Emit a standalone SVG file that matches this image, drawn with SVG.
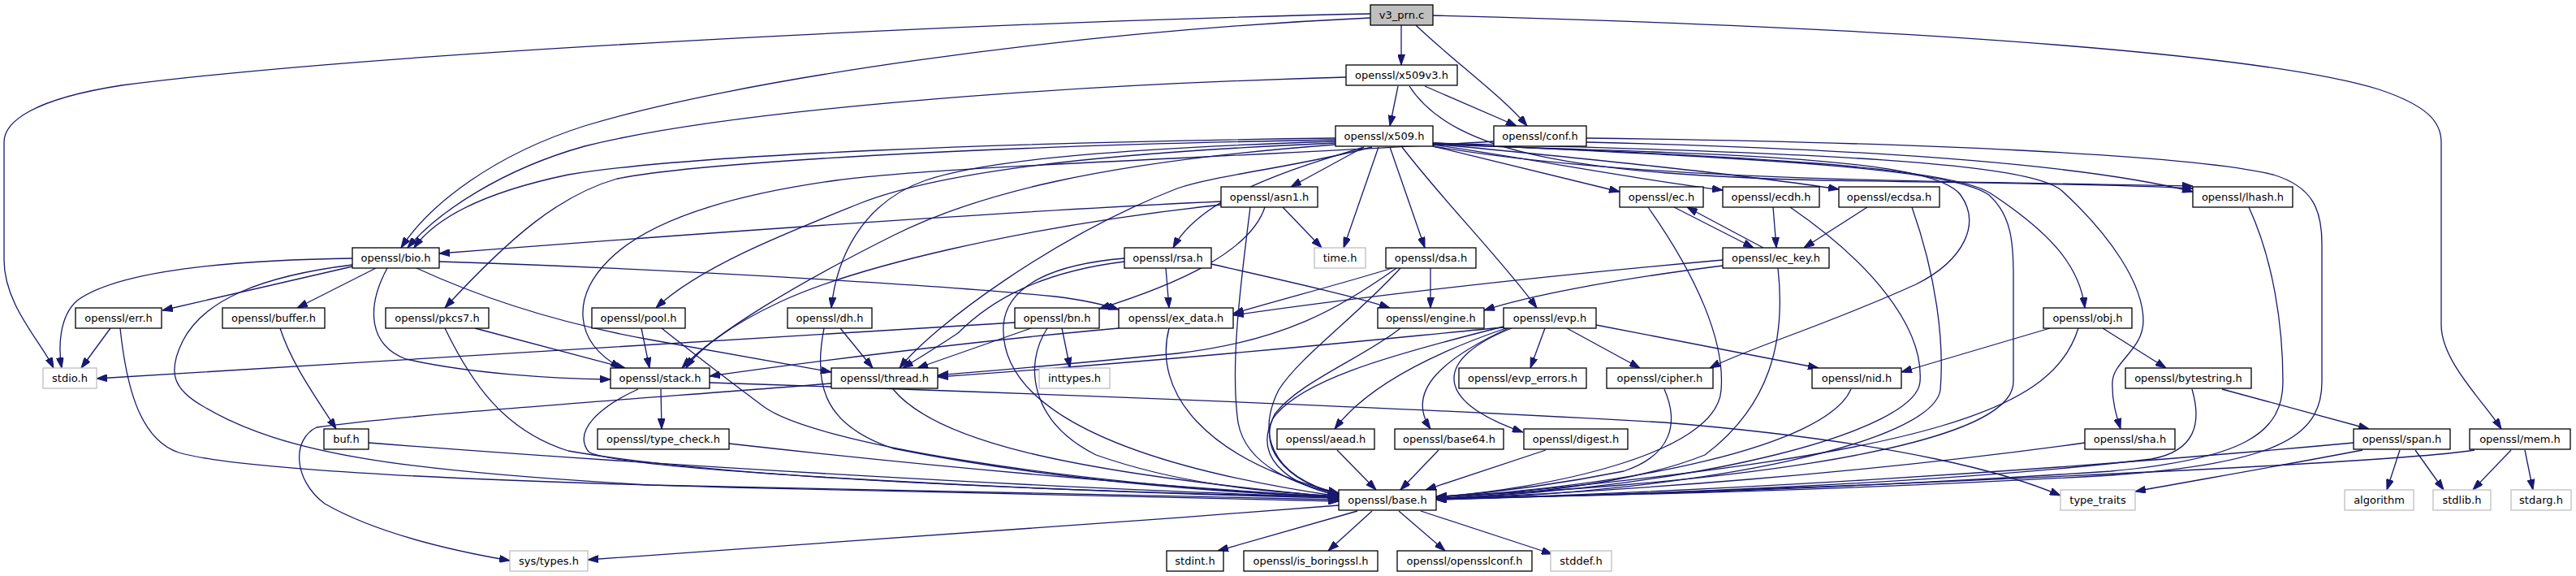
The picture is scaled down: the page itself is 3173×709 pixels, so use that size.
<svg xmlns="http://www.w3.org/2000/svg" width="3173" height="709" viewBox="0 0 3173 709">
<style>
.n rect{fill:#fff;stroke:#000;stroke-width:1.3}
.n.sys rect{stroke:#bfbfbf}
.n.root rect{fill:#bfbfbf}
.n text{font-family:"DejaVu Sans",sans-serif;font-size:13px;fill:#000;text-anchor:middle}
#edges path{fill:none;stroke:#191970;stroke-width:1.3;marker-end:url(#ah)}
</style>
<defs>
<marker id="ah" markerUnits="userSpaceOnUse" markerWidth="13" markerHeight="9" refX="13" refY="4.5" orient="auto" viewBox="0 0 13 9">
<path d="M0,0 L13,4.5 L0,9 z" fill="#191970" stroke="#191970" stroke-width="1"/>
</marker>
</defs>
<rect width="3173" height="709" fill="#fff"/>
<g id="edges">
<path d="M1688,17 C1300,25 500,60 150,105 C40,122 5,150 5,175 L5,320 C5,375 50,420 66,453"/>
<path d="M1688,22 C1300,40 900,100 720,155 C610,190 530,250 494,305"/>
<path d="M1744,31 C1790,75 1850,118 1881,155"/>
<path d="M1765,19 C2400,35 2800,70 2930,110 C2990,130 3007,150 3007,175 L3007,400 C3007,445 3060,495 3081,528"/>
<path d="M1726,31 L1726,80"/>
<path d="M1658,95 C1300,105 900,135 720,180 C620,208 540,260 502,305"/>
<path d="M1755,106 L1868,155"/>
<path d="M1736,106 C1790,190 1950,215 2250,222 C2500,226 2640,228 2701,232"/>
<path d="M1722,106 L1712,155"/>
<path d="M1954,170 C2350,175 2700,190 2800,215 C2850,230 2860,260 2860,300 L2860,470 C2860,540 2800,570 2600,585 C2300,602 2000,610 1769,613"/>
<path d="M1840,174 C1500,195 1150,205 1030,222 C900,240 800,270 750,320 C705,365 705,420 765,453"/>
<path d="M1954,175 C2250,182 2550,198 2701,236"/>
<path d="M1765,176 C2150,195 2400,205 2450,240 C2478,265 2480,300 2480,340 L2480,470 C2480,560 2050,600 1769,611"/>
<path d="M1698,181 L1655,305"/>
<path d="M1680,181 L1590,230"/>
<path d="M1645,170 C1250,175 850,190 700,215 C590,238 535,270 510,305"/>
<path d="M1765,178 C2150,190 2380,195 2415,240 C2440,275 2420,320 2360,350 C2250,400 2150,430 2106,453"/>
<path d="M1645,174 C1400,182 1220,195 1140,222 C1060,250 1030,320 1024,379"/>
<path d="M1712,181 L1755,305"/>
<path d="M1765,180 L1995,236"/>
<path d="M1765,178 C1900,198 2010,220 2122,234"/>
<path d="M1765,177 C1950,195 2150,215 2265,233"/>
<path d="M1727,181 C1780,250 1850,320 1893,379"/>
<path d="M1765,177 C2150,192 2410,205 2455,240 C2530,290 2562,330 2568,379"/>
<path d="M1645,172 C1200,180 860,200 760,220 C690,240 630,290 548,379"/>
<path d="M1645,176 C1320,190 1150,215 1060,250 C960,290 860,330 808,379"/>
<path d="M1680,181 C1600,205 1480,240 1445,305"/>
<path d="M1765,176 C2250,188 2500,200 2540,235 C2600,290 2640,350 2640,395 C2640,430 2603,445 2602,470 C2601,495 2608,515 2612,528"/>
<path d="M1645,178 C1350,200 1200,240 1100,290 C980,350 880,410 840,453"/>
<path d="M1690,181 C1600,205 1500,215 1450,232 C1300,290 1150,400 1108,453"/>
<path d="M1765,180 C2000,220 2300,222 2701,229"/>
<path d="M434,326 C320,340 250,370 225,420 C205,460 215,480 250,500 C350,560 500,580 800,597 C1200,606 1500,612 1649,615"/>
<path d="M463,330 L366,379"/>
<path d="M434,328 L200,382"/>
<path d="M541,322 C800,330 1150,350 1300,365 C1340,370 1360,375 1378,381"/>
<path d="M477,330 C450,380 455,425 500,442 C580,460 680,466 752,467"/>
<path d="M513,330 C600,370 700,400 800,418 C900,436 980,450 1024,458"/>
<path d="M434,318 C300,320 150,330 95,370 C72,390 72,430 76,453"/>
<path d="M1540,255 C1528,350 1515,450 1525,520 C1535,575 1600,598 1649,608"/>
<path d="M1580,255 L1628,305"/>
<path d="M1504,248 C1200,262 800,292 541,312"/>
<path d="M1558,255 C1540,310 1450,350 1354,380"/>
<path d="M1504,252 C1250,280 1050,330 960,372 C900,400 860,430 845,453"/>
<path d="M148,404 C155,470 170,540 220,557 C300,580 600,592 900,600 C1300,608 1500,613 1649,617"/>
<path d="M136,404 L100,453"/>
<path d="M345,404 C360,450 390,490 414,528"/>
<path d="M454,545 C800,572 1300,602 1649,612"/>
<path d="M548,404 C580,470 620,530 700,555 C900,590 1300,604 1649,612"/>
<path d="M585,404 L770,453"/>
<path d="M790,404 L800,453"/>
<path d="M815,404 C860,440 900,470 940,500 C1000,545 1300,595 1649,612"/>
<path d="M1035,404 L1075,453"/>
<path d="M1015,404 C1000,480 1020,525 1100,552 C1300,592 1500,606 1649,612"/>
<path d="M1385,318 C1300,325 1240,350 1236,400 C1232,470 1300,560 1649,611"/>
<path d="M1492,325 C1580,345 1670,365 1712,379"/>
<path d="M1436,330 L1440,379"/>
<path d="M1385,322 C1280,335 1220,370 1180,410 C1150,430 1125,445 1112,453"/>
<path d="M1290,404 C1260,450 1270,520 1350,560 C1450,595 1550,605 1649,611"/>
<path d="M1270,404 L1130,453"/>
<path d="M1308,404 L1318,453"/>
<path d="M1250,397 C900,420 500,442 119,466"/>
<path d="M1440,404 C1420,480 1480,565 1649,607"/>
<path d="M1378,404 C1200,420 1000,445 874,463"/>
<path d="M1725,330 C1670,390 1600,440 1575,480 C1550,530 1560,585 1649,608"/>
<path d="M1762,330 L1762,379"/>
<path d="M1715,330 C1650,350 1580,368 1519,386"/>
<path d="M1720,330 C1650,380 1580,420 1450,435 C1300,450 1200,458 1155,462"/>
<path d="M1725,404 C1680,440 1600,470 1570,510 C1550,550 1580,590 1649,609"/>
<path d="M1852,402 C1700,440 1600,470 1568,515 C1545,560 1580,595 1649,610"/>
<path d="M1855,404 C1750,440 1680,480 1644,528"/>
<path d="M1858,404 C1780,440 1730,480 1762,528"/>
<path d="M1930,404 L2020,453"/>
<path d="M1862,404 C1770,440 1760,492 1876,532"/>
<path d="M1903,404 L1885,453"/>
<path d="M1966,400 L2240,453"/>
<path d="M1852,403 C1750,412 1500,440 1155,464"/>
<path d="M2030,255 C2090,340 2125,420 2120,480 C2115,560 1900,602 1769,612"/>
<path d="M2062,255 L2160,305"/>
<path d="M2172,305 L2078,255"/>
<path d="M2190,330 C2200,420 2180,500 2100,560 C2000,600 1850,610 1769,614"/>
<path d="M2122,327 C1980,345 1880,365 1828,382"/>
<path d="M2122,320 C1900,340 1700,362 1519,388"/>
<path d="M2205,255 C2300,320 2370,400 2365,470 C2360,530 2100,600 1769,614"/>
<path d="M2184,255 L2188,305"/>
<path d="M2355,255 C2385,340 2395,420 2390,480 C2380,545 2100,605 1769,615"/>
<path d="M2300,255 L2222,305"/>
<path d="M786,479 C740,500 705,530 725,556 C760,580 1300,605 1649,613"/>
<path d="M814,479 L815,528"/>
<path d="M874,471 C1300,485 1700,500 2050,520 C2350,545 2480,585 2538,610"/>
<path d="M1100,479 C1150,540 1300,580 1649,612"/>
<path d="M1024,472 C800,490 500,510 390,526 C360,540 360,590 400,620 C470,660 570,680 628,690"/>
<path d="M898,546 C1200,580 1450,600 1649,612"/>
<path d="M2050,479 C2068,520 2060,560 2000,580 C1900,600 1820,608 1769,612"/>
<path d="M2280,479 C2250,550 2000,600 1769,612"/>
<path d="M2560,404 C2530,500 2400,560 1769,614"/>
<path d="M2590,404 L2668,453"/>
<path d="M2525,404 L2342,458"/>
<path d="M2700,479 C2712,520 2705,555 2650,565 C2400,595 2000,610 1769,614"/>
<path d="M2737,479 L2918,528"/>
<path d="M2568,545 C2300,582 2000,605 1769,614"/>
<path d="M2899,545 C2500,582 2100,605 1769,615"/>
<path d="M2956,554 L2940,603"/>
<path d="M2975,554 L3010,603"/>
<path d="M2910,554 C2800,575 2700,592 2630,605"/>
<path d="M3048,554 C2950,570 2250,602 1769,615"/>
<path d="M3093,554 L3046,603"/>
<path d="M3110,554 L3120,603"/>
<path d="M2770,255 C2800,320 2812,400 2812,470 C2812,535 2760,565 2600,580 C2300,600 2000,610 1769,614"/>
<path d="M1647,554 L1695,603"/>
<path d="M1772,554 L1725,603"/>
<path d="M1904,554 L1756,603"/>
<path d="M1672,629 L1500,678"/>
<path d="M1690,629 L1636,678"/>
<path d="M1723,629 L1780,678"/>
<path d="M1750,629 L1912,682"/>
<path d="M1649,622 C1300,650 900,675 724,689"/>
</g>
<g id="node-v3_prn" class="n root"><rect x="1688" y="6" width="77" height="25"/><text x="1726.5" y="23">v3_prn.c</text></g>
<g id="node-x509v3" class="n"><rect x="1658" y="80" width="137" height="25"/><text x="1726.5" y="97">openssl/x509v3.h</text></g>
<g id="node-x509" class="n"><rect x="1645" y="155" width="120" height="25"/><text x="1705" y="172">openssl/x509.h</text></g>
<g id="node-conf" class="n"><rect x="1840" y="155" width="114" height="25"/><text x="1897" y="172">openssl/conf.h</text></g>
<g id="node-asn1" class="n"><rect x="1504" y="230" width="119" height="25"/><text x="1563.5" y="247">openssl/asn1.h</text></g>
<g id="node-ec" class="n"><rect x="1995" y="230" width="103" height="25"/><text x="2046.5" y="247">openssl/ec.h</text></g>
<g id="node-ecdh" class="n"><rect x="2122" y="230" width="119" height="25"/><text x="2181.5" y="247">openssl/ecdh.h</text></g>
<g id="node-ecdsa" class="n"><rect x="2265" y="230" width="124" height="25"/><text x="2327" y="247">openssl/ecdsa.h</text></g>
<g id="node-lhash" class="n"><rect x="2701" y="230" width="123" height="25"/><text x="2762.5" y="247">openssl/lhash.h</text></g>
<g id="node-bio" class="n"><rect x="434" y="305" width="107" height="25"/><text x="487.5" y="322">openssl/bio.h</text></g>
<g id="node-rsa" class="n"><rect x="1385" y="305" width="107" height="25"/><text x="1438.5" y="322">openssl/rsa.h</text></g>
<g id="node-time" class="n sys"><rect x="1619" y="305" width="63" height="25"/><text x="1650.5" y="322">time.h</text></g>
<g id="node-dsa" class="n"><rect x="1707" y="305" width="111" height="25"/><text x="1762.5" y="322">openssl/dsa.h</text></g>
<g id="node-ec_key" class="n"><rect x="2122" y="305" width="131" height="25"/><text x="2187.5" y="322">openssl/ec_key.h</text></g>
<g id="node-err" class="n"><rect x="93" y="379" width="106" height="25"/><text x="146" y="396">openssl/err.h</text></g>
<g id="node-buffer" class="n"><rect x="274" y="379" width="126" height="25"/><text x="337" y="396">openssl/buffer.h</text></g>
<g id="node-pkcs7" class="n"><rect x="475" y="379" width="127" height="25"/><text x="538.5" y="396">openssl/pkcs7.h</text></g>
<g id="node-pool" class="n"><rect x="729" y="379" width="115" height="25"/><text x="786.5" y="396">openssl/pool.h</text></g>
<g id="node-dh" class="n"><rect x="970" y="379" width="104" height="25"/><text x="1022" y="396">openssl/dh.h</text></g>
<g id="node-bn" class="n"><rect x="1250" y="379" width="104" height="25"/><text x="1302" y="396">openssl/bn.h</text></g>
<g id="node-ex_data" class="n"><rect x="1378" y="379" width="141" height="25"/><text x="1448.5" y="396">openssl/ex_data.h</text></g>
<g id="node-engine" class="n"><rect x="1697" y="379" width="131" height="25"/><text x="1762.5" y="396">openssl/engine.h</text></g>
<g id="node-evp" class="n"><rect x="1852" y="379" width="114" height="25"/><text x="1909" y="396">openssl/evp.h</text></g>
<g id="node-obj" class="n"><rect x="2517" y="379" width="109" height="25"/><text x="2571.5" y="396">openssl/obj.h</text></g>
<g id="node-stdio" class="n sys"><rect x="53" y="453" width="66" height="25"/><text x="86" y="470">stdio.h</text></g>
<g id="node-stack" class="n"><rect x="752" y="453" width="122" height="25"/><text x="813" y="470">openssl/stack.h</text></g>
<g id="node-thread" class="n"><rect x="1024" y="453" width="131" height="25"/><text x="1089.5" y="470">openssl/thread.h</text></g>
<g id="node-inttypes" class="n sys"><rect x="1280" y="453" width="87" height="25"/><text x="1323.5" y="470">inttypes.h</text></g>
<g id="node-evp_errors" class="n"><rect x="1797" y="453" width="157" height="25"/><text x="1875.5" y="470">openssl/evp_errors.h</text></g>
<g id="node-cipher" class="n"><rect x="1979" y="453" width="131" height="25"/><text x="2044.5" y="470">openssl/cipher.h</text></g>
<g id="node-nid" class="n"><rect x="2232" y="453" width="110" height="25"/><text x="2287" y="470">openssl/nid.h</text></g>
<g id="node-bytestring" class="n"><rect x="2618" y="453" width="155" height="25"/><text x="2695.5" y="470">openssl/bytestring.h</text></g>
<g id="node-buf" class="n"><rect x="399" y="528" width="55" height="25"/><text x="426.5" y="545">buf.h</text></g>
<g id="node-type_check" class="n"><rect x="736" y="528" width="162" height="25"/><text x="817" y="545">openssl/type_check.h</text></g>
<g id="node-aead" class="n"><rect x="1573" y="528" width="120" height="25"/><text x="1633" y="545">openssl/aead.h</text></g>
<g id="node-base64" class="n"><rect x="1718" y="528" width="134" height="25"/><text x="1785" y="545">openssl/base64.h</text></g>
<g id="node-digest" class="n"><rect x="1877" y="528" width="128" height="25"/><text x="1941" y="545">openssl/digest.h</text></g>
<g id="node-sha" class="n"><rect x="2568" y="528" width="111" height="25"/><text x="2623.5" y="545">openssl/sha.h</text></g>
<g id="node-span" class="n"><rect x="2899" y="528" width="119" height="25"/><text x="2958.5" y="545">openssl/span.h</text></g>
<g id="node-mem" class="n"><rect x="3042" y="528" width="124" height="25"/><text x="3104" y="545">openssl/mem.h</text></g>
<g id="node-base" class="n"><rect x="1649" y="603" width="120" height="25"/><text x="1709" y="620">openssl/base.h</text></g>
<g id="node-type_traits" class="n sys"><rect x="2538" y="603" width="92" height="25"/><text x="2584" y="620">type_traits</text></g>
<g id="node-algorithm" class="n sys"><rect x="2888" y="603" width="85" height="25"/><text x="2930.5" y="620">algorithm</text></g>
<g id="node-stdlib" class="n sys"><rect x="2997" y="603" width="71" height="25"/><text x="3032.5" y="620">stdlib.h</text></g>
<g id="node-stdarg" class="n sys"><rect x="3093" y="603" width="74" height="25"/><text x="3130" y="620">stdarg.h</text></g>
<g id="node-sys_types" class="n sys"><rect x="628" y="678" width="96" height="25"/><text x="676" y="695">sys/types.h</text></g>
<g id="node-stdint" class="n"><rect x="1437" y="678" width="70" height="25"/><text x="1472" y="695">stdint.h</text></g>
<g id="node-is_boringssl" class="n"><rect x="1532" y="678" width="165" height="25"/><text x="1614.5" y="695">openssl/is_boringssl.h</text></g>
<g id="node-opensslconf" class="n"><rect x="1721" y="678" width="166" height="25"/><text x="1804" y="695">openssl/opensslconf.h</text></g>
<g id="node-stddef" class="n sys"><rect x="1910" y="678" width="75" height="25"/><text x="1947.5" y="695">stddef.h</text></g>
</svg>
